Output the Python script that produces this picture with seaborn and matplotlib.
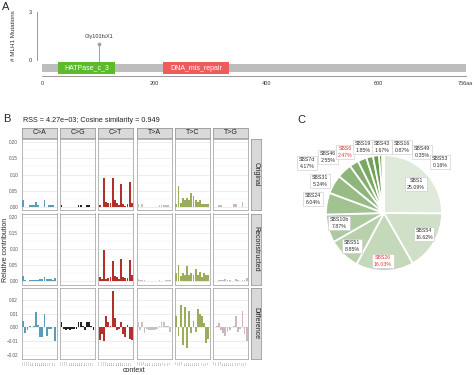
import numpy as np
import pandas as pd
import matplotlib
matplotlib.use("Agg")
import matplotlib.pyplot as plt
import matplotlib.colors as mcolors
from matplotlib.patches import Rectangle
import seaborn as sns

# ---------------- Panel A data ----------------
protein_length = 756
domain_names = ["HATPase_c_3", "DNA_mis_repair"]
domain_start = [29, 216]
domain_end = [130, 334]
mut_pos = [101]
mut_count = [1]
mut_label = ["Gly101fsX1"]
a_xticks = [0, 100, 200, 300, 400, 500, 600, 700, 756]
a_xticklabels = ["0", "", "200", "", "400", "", "600", "", "756aa"]
a_yticks = [0, 1, 2, 3]
a_yticklabels = ["0", "", "", "3"]

# ---------------- Panel B data ----------------
mut_types = ["C>A", "C>G", "C>T", "T>A", "T>C", "T>G"]
row_names = ["Original", "Reconstructed", "Difference"]
bases = ["A", "C", "G", "T"]

orig_CA = [0.022, 0.0, 0.0, 0.005, 0.005, 0.005, 0.016, 0.005, 0.0, 0.0, 0.022, 0.0, 0.005, 0.005, 0.005, 0.0]
orig_CG = [0.004, 0, 0, 0, 0, 0, 0, 0, 0.004, 0.004, 0, 0, 0.004, 0.004, 0, 0]
orig_CT = [0.005, 0.0, 0.088, 0.015, 0.012, 0.012, 0.088, 0.022, 0.012, 0.005, 0.071, 0.010, 0.003, 0.010, 0.077, 0.012]
orig_TA = [0.010, 0.0, 0.010, 0.0, 0.0, 0.0, 0.0, 0.0, 0.0, 0.0, 0.005, 0.005, 0.005, 0.005, 0.005, 0.0]
orig_TC = [0.010, 0.065, 0.012, 0.028, 0.020, 0.028, 0.020, 0.042, 0.032, 0.022, 0.015, 0.020, 0.010, 0.010, 0.010, 0.010]
orig_TG = [0, 0, 0.004, 0.004, 0, 0, 0, 0, 0, 0.008, 0.008, 0, 0, 0.015, 0, 0]

recon_CA = [0.017, 0.004, 0.002, 0.004, 0.005, 0.004, 0.005, 0.004, 0.007, 0.007, 0.012, 0.006, 0.006, 0.006, 0.005, 0.010]
recon_CG = [0.002, 0.001, 0.002, 0.001, 0.002, 0.001, 0.001, 0.001, 0.002, 0.001, 0.002, 0.002, 0.001, 0.002, 0.001, 0.002]
recon_CT = [0.014, 0.007, 0.098, 0.008, 0.010, 0.012, 0.062, 0.016, 0.014, 0.008, 0.068, 0.014, 0.010, 0.010, 0.066, 0.020]
recon_TA = [0.006, 0.003, 0.005, 0.004, 0.002, 0.002, 0.002, 0.002, 0.002, 0.002, 0.003, 0.002, 0.002, 0.004, 0.003, 0.003]
recon_TC = [0.025, 0.050, 0.015, 0.025, 0.020, 0.048, 0.020, 0.025, 0.020, 0.038, 0.018, 0.030, 0.012, 0.025, 0.020, 0.018]
recon_TG = [0.002, 0.002, 0.003, 0.005, 0.004, 0.006, 0.003, 0.003, 0.002, 0.002, 0.008, 0.003, 0.002, 0.004, 0.004, 0.010]

diff_CA = [0.005, -0.004, -0.002, 0.001, 0.0, 0.001, 0.011, 0.002, -0.007, -0.007, 0.010, -0.006, -0.001, -0.001, 0.0, -0.010]
diff_CG = [0.004, -0.001, -0.002, -0.001, -0.002, -0.001, -0.001, -0.001, 0.004, 0.004, 0.001, -0.002, 0.004, 0.004, 0.001, -0.002]
diff_CT = [-0.009, -0.005, -0.010, 0.008, 0.004, 0.001, 0.026, 0.007, -0.002, -0.001, 0.004, -0.005, -0.007, 0.002, -0.008, -0.009]
diff_TA = [0.004, -0.002, 0.004, -0.004, -0.001, -0.002, -0.002, -0.002, -0.002, -0.001, 0.001, 0.004, 0.004, 0.001, 0.001, -0.003]
diff_TC = [0.008, -0.006, 0.016, -0.013, 0.015, -0.015, 0.012, -0.004, 0.005, -0.003, 0.013, 0.010, 0.008, 0.003, -0.011, -0.008]
diff_TG = [0.0, 0.001, 0.003, -0.002, -0.004, -0.006, -0.003, -0.002, 0.0, 0.001, 0.008, -0.003, -0.001, 0.012, -0.005, -0.010]

rss_title = "RSS = 4.27e\u221203; Cosine similarity = 0.949"

# ---------------- Panel C data ----------------
sig_names = ["SBS1", "SBS54", "SBS26", "SBS51", "SBS10b", "SBS24", "SBS31", "SBS7d",
             "SBS46", "SBS6", "SBS19", "SBS43", "SBS16", "SBS49", "SBS53"]
sig_pcts = [25.09, 16.62, 16.03, 8.85, 7.87, 6.04, 5.24, 4.17, 2.55, 2.47, 1.85, 1.67, 0.87, 0.35, 0.16]
sig_highlight = ["SBS26", "SBS6"]

# ---------------- build tables ----------------
orig = dict(zip(mut_types, [orig_CA, orig_CG, orig_CT, orig_TA, orig_TC, orig_TG]))
recon = dict(zip(mut_types, [recon_CA, recon_CG, recon_CT, recon_TA, recon_TC, recon_TG]))
diff = dict(zip(mut_types, [diff_CA, diff_CG, diff_CT, diff_TA, diff_TC, diff_TG]))
rows = []
for rname, src in zip(row_names, [orig, recon, diff]):
    for mt in mut_types:
        ref = mt[0]
        ctxs = [f"{a}{ref}{b}" for a in bases for b in bases]
        for c, v in zip(ctxs, src[mt]):
            rows.append(dict(row=rname, type=mt, context=c, value=v))
df = pd.DataFrame(rows)

# ---------------- style ----------------
sns.set_style("white")
plt.rcParams["font.family"] = ["Liberation Sans", "DejaVu Sans"]

W, H = 474, 375
fig = plt.figure(figsize=(W / 100, H / 100), dpi=100)


def fax(x0, y0, w, h):
    """axes from pixel box (x0, y0 top-left)"""
    return fig.add_axes([x0 / W, 1 - (y0 + h) / H, w / W, h / H])


# ================= Panel A =================
axA = fax(37, 8, 431, 72)
axA.set_xlim(-9, 760)
axA.set_ylim(-1.25, 3.25)
axA.add_patch(Rectangle((0, -0.72), protein_length, 0.44, facecolor="#bdbdbd", edgecolor="none", zorder=1))
dom_colors = ["#5cbb2a", "#ef5a5a"]
for nm, s, e, c in zip(domain_names, domain_start, domain_end, dom_colors):
    axA.add_patch(Rectangle((s, -0.875), e - s, 0.75, facecolor=c, edgecolor="none", zorder=2))
    axA.text((s + e) / 2, -0.5, nm, color="white", fontsize=5, ha="center", va="center", zorder=3)
for p, cnt, lab in zip(mut_pos, mut_count, mut_label):
    axA.plot([p, p], [-0.125, cnt], color="#9e9e9e", lw=0.7, zorder=2)
    axA.text(p, cnt + 0.3, lab, fontsize=4, ha="center", va="bottom", color="#333333")
sns.scatterplot(x=mut_pos, y=mut_count, ax=axA, color="#9e9e9e", s=6, edgecolor="#9e9e9e", zorder=4, legend=False)
for s in ["top", "right"]:
    axA.spines[s].set_visible(False)
axA.spines["left"].set_bounds(0, 3)
axA.spines["bottom"].set_position(("data", -1.0))
axA.spines["bottom"].set_bounds(0, protein_length)
for s in ["left", "bottom"]:
    axA.spines[s].set_color("#888888")
    axA.spines[s].set_linewidth(0.6)
axA.set_xticks(a_xticks)
axA.set_xticklabels(a_xticklabels)
axA.set_yticks(a_yticks)
axA.set_yticklabels(a_yticklabels)
axA.tick_params(axis="both", labelsize=4, length=2, width=0.5, color="#888888", pad=1.5, labelcolor="#333333")
axA.set_ylabel("# MLH1 Mutations", fontsize=4.5, labelpad=6, color="#333333")
axA.yaxis.set_label_coords(-0.048, 0.62)
fig.text(2 / W, 1 - 7 / H, "A", fontsize=8, va="center", ha="left")

# ================= Panel B =================
type_colors = ["#5b9cb9", "#222222", "#b2302a", "#c6c1c5", "#9bad5c", "#cdb6bc"]
col_left0, col_step, col_w = 21.7, 38.3, 35
row_tops = [139, 213.5, 288]
row_h = 71
row_ylims = [(-0.01, 0.21), (-0.01, 0.21), (-0.0228, 0.0285)]
row_yticks = [[0, 0.05, 0.10, 0.15, 0.20], [0, 0.05, 0.10, 0.15, 0.20], [-0.02, -0.01, 0.0, 0.01, 0.02]]
row_ylabels = [["0.00", "0.05", "0.10", "0.15", "0.20"], ["0.00", "0.05", "0.10", "0.15", "0.20"],
               ["\u22120.02", "\u22120.01", "0.00", "0.01", "0.02"]]

for ri, rname in enumerate(row_names):
    for ci, mt in enumerate(mut_types):
        ax = fax(col_left0 + ci * col_step, row_tops[ri], col_w, row_h)
        sub = df[(df.row == rname) & (df.type == mt)]
        sns.barplot(data=sub, x="context", y="value", color=type_colors[ci], ax=ax,
                    width=0.85, saturation=1, errorbar=None, linewidth=0, zorder=3)
        ax.set_xlim(-0.7, 15.7)
        ax.set_ylim(*row_ylims[ri])
        ax.set_yticks(row_yticks[ri])
        yt = row_yticks[ri]
        ax.set_yticks([(a + b) / 2 for a, b in zip(yt[:-1], yt[1:])], minor=True)
        ax.grid(axis="y", which="major", color="#e6e6e6", lw=0.5, zorder=0)
        ax.grid(axis="y", which="minor", color="#f0f0f0", lw=0.3, zorder=0)
        ax.grid(axis="x", visible=False)
        ax.set_axisbelow(True)
        ax.set_xlabel("")
        ax.set_ylabel("")
        for s in ax.spines.values():
            s.set_color("#aaaaaa")
            s.set_linewidth(0.6)
        ax.tick_params(axis="both", which="minor", length=0)
        if ci == 0:
            ax.set_yticklabels(row_ylabels[ri])
            ax.tick_params(axis="y", which="major", labelsize=3.3, length=1.5, width=0.4,
                           color="#555555", labelcolor="#555555", pad=1)
        else:
            ax.tick_params(axis="y", which="major", labelleft=False, length=0)
        if ri == 2:
            ax.tick_params(axis="x", labelsize=1.4, length=1, width=0.3, rotation=90,
                           color="#555555", labelcolor="#555555", pad=0.5)
        else:
            ax.tick_params(axis="x", labelbottom=False, length=0)
        # top strips
        if ri == 0:
            sax = fax(col_left0 + ci * col_step, 127.5, col_w, 10.5)
            sax.set_facecolor("#d9d9d9")
            sax.set_xticks([]); sax.set_yticks([])
            for s in sax.spines.values():
                s.set_color("#9a9a9a"); s.set_linewidth(0.6)
            sax.text(0.5, 0.48, mt, fontsize=5, ha="center", va="center", transform=sax.transAxes, color="#222222")
    # right strips
    rax = fax(250.5, row_tops[ri], 10.5, row_h)
    rax.set_facecolor("#d9d9d9")
    rax.set_xticks([]); rax.set_yticks([])
    for s in rax.spines.values():
        s.set_color("#9a9a9a"); s.set_linewidth(0.6)
    rax.text(0.5, 0.5, rname, fontsize=5, ha="center", va="center", rotation=-90,
             transform=rax.transAxes, color="#222222")

fig.text(23 / W, 1 - 120 / H, rss_title, fontsize=5.2, va="center", ha="left", color="#222222")
fig.text(3 / W, 1 - 119 / H, "B", fontsize=8, va="center", ha="left")
fig.text(6 / W, 1 - 250 / H, "Relative contribution", fontsize=5, rotation=90, va="center", ha="center")
fig.text(134 / W, 1 - 370 / H, "context", fontsize=5, va="center", ha="center")

# ================= Panel C =================
cx, cy, r = 384, 213, 58
axC = fax(cx - 1.25 * r, cy - 1.25 * r, 2.5 * r, 2.5 * r)
light = np.array(mcolors.to_rgb("#e0eadb"))
dark = np.array(mcolors.to_rgb("#4c8a2c"))
n = len(sig_pcts)
pie_colors = [tuple(light + (dark - light) * (i / (n - 1)) ** 0.85) for i in range(n)]
axC.pie(sig_pcts, colors=pie_colors, startangle=90, counterclock=False,
        wedgeprops=dict(edgecolor="white", linewidth=1.3))
axC.set_xlim(-1.25, 1.25)
axC.set_ylim(-1.25, 1.25)
axC.set_aspect("equal")
axC.axis("off")

label_px = [(416, 184), (424, 234), (383, 261), (352, 246), (339, 223), (313, 199), (320, 181),
            (307, 163), (328, 157), (345, 152), (363, 147), (382, 147), (402, 147), (422, 152), (440, 162)]
for nm, pc, (px, py) in zip(sig_names, sig_pcts, label_px):
    col = "#e03a3a" if nm in sig_highlight else "#333333"
    axC.text((px - cx) / r, (cy - py) / r, f"{nm}\n{pc:.2f}%", fontsize=3.8, color=col,
             ha="center", va="center", linespacing=1.3, clip_on=False,
             bbox=dict(boxstyle="square,pad=0.3", fc="white", ec="#c8c8c8", lw=0.4))

fig.text(297 / W, 1 - 120 / H, "C", fontsize=8, va="center", ha="left")

fig.savefig("out.png", dpi=100)
